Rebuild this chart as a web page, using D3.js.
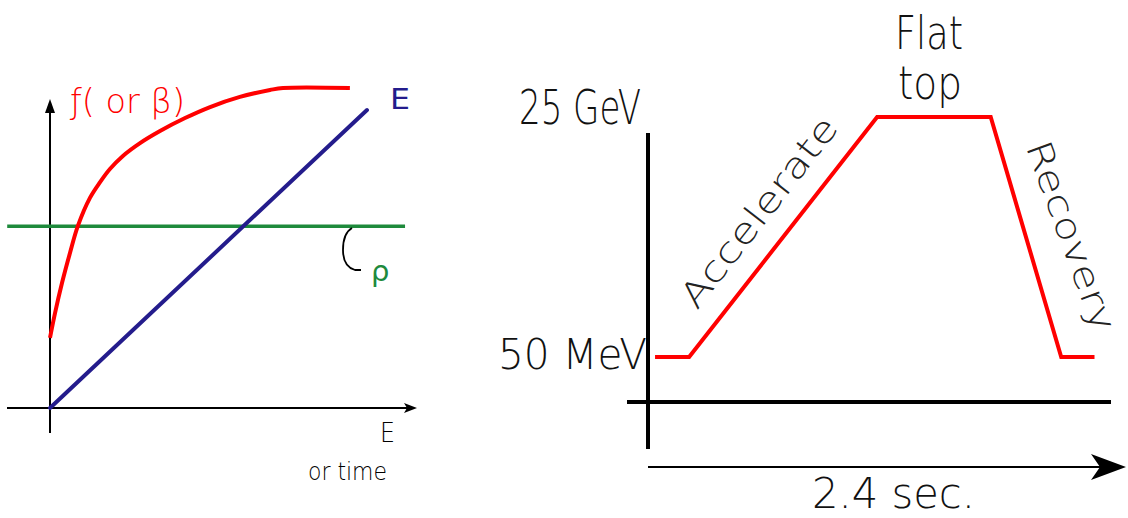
<!DOCTYPE html>
<html><head><meta charset="utf-8">
<script src="https://cdn.jsdelivr.net/npm/d3@7"></script>
<style>body{margin:0;background:#fff}svg{display:block}</style>
</head><body>
<svg id="c" width="1128" height="518"></svg>
<script>
// ---- Left panel data (arbitrary units 0..100) ----
const fBetaX = [0, 1.6, 3.8, 6.3, 8.8, 12.6, 15.8, 18.9, 23.0, 28.4, 34.7, 42.6, 50.5, 59.9, 69.4, 73.5, 94.6];
const fBetaY = [23.5, 31.9, 42.0, 52.0, 61.1, 70.5, 75.8, 80.2, 84.6, 88.9, 92.95, 97.3, 101.0, 104.4, 106.7, 107.4, 107.4];
const energyX = [0, 100];
const energyY = [0, 100];
const rhoLevel = 61;
const rhoRange = [-13.5, 112];
// ---- Right panel data (machine cycle) ----
const cycleTime = [0.036, 0.21, 1.17, 1.75, 2.11, 2.28];
const cycleEnergy = ["50 MeV", "50 MeV", "25 GeV", "25 GeV", "50 MeV", "50 MeV"];
const energyLabels = ["50 MeV", "25 GeV"];
const cycleLength = 2.4;
const phaseLabels = ["Accelerate", "Flat top", "Recovery"];

const svg = d3.select("#c");
const fam = "DejaVu Sans, sans-serif";

// ===== Left panel =====
const xL = d3.scaleLinear().domain([0, 100]).range([50, 367]);
const yL = d3.scaleLinear().domain([0, 100]).range([408, 110]);
const gL = svg.append("g");

// axes
gL.append("line").attr("x1", 7).attr("x2", 410).attr("y1", yL(0)).attr("y2", yL(0))
  .attr("stroke", "#000").attr("stroke-width", 2);
gL.append("path").attr("d", `M417,${yL(0)} L404,${yL(0)-5} L407,${yL(0)} L404,${yL(0)+5} Z`).attr("fill", "#000");
gL.append("line").attr("x1", xL(0)).attr("x2", xL(0)).attr("y1", 108).attr("y2", 433)
  .attr("stroke", "#000").attr("stroke-width", 2);
gL.append("path").attr("d", `M${xL(0)},99 L${xL(0)-5},113 L${xL(0)+5},113 Z`).attr("fill", "#000");

// rho line
gL.append("line").attr("x1", xL(rhoRange[0])).attr("x2", xL(rhoRange[1]))
  .attr("y1", yL(rhoLevel)).attr("y2", yL(rhoLevel))
  .attr("stroke", "#1e8a3c").attr("stroke-width", 3.5);

// E line
const eLine = d3.line().x((d, i) => xL(energyX[i])).y((d, i) => yL(energyY[i]));
gL.append("path").attr("d", eLine(energyX)).attr("fill", "none")
  .attr("stroke", "#241c8c").attr("stroke-width", 4).attr("stroke-linecap", "round");

// f (beta) curve
const fLine = d3.line().x((d, i) => xL(fBetaX[i])).y((d, i) => yL(fBetaY[i])).curve(d3.curveCatmullRom.alpha(0.5));
gL.append("path").attr("d", fLine(fBetaX)).attr("fill", "none")
  .attr("stroke", "#ff0000").attr("stroke-width", 4);

// labels
gL.append("text").attr("x", 390).attr("y", 109).attr("fill", "#241c8c")
  .attr("font-family", fam).attr("font-size", 29)
  .attr("textLength", 20).attr("lengthAdjust", "spacingAndGlyphs").text("E");
gL.append("text").attr("x", 70).attr("y", 113).attr("fill", "#ff0000")
  .attr("font-family", fam).attr("font-size", 33).attr("font-weight", 300)
  .attr("textLength", 115).attr("lengthAdjust", "spacingAndGlyphs")
  .text("ƒ( or β)");

// rho bracket
gL.append("path").attr("d", "M352,228 C345,232 343,240 343,250 C343,262 348,268 355,270 L361,270")
  .attr("fill", "none").attr("stroke", "#000").attr("stroke-width", 1.8);
gL.append("text").attr("x", 371).attr("y", 281).attr("fill", "#1e8a3c")
  .attr("font-family", fam).attr("font-size", 29).text("ρ");

gL.append("text").attr("x", 380).attr("y", 442).attr("fill", "#000")
  .attr("font-family", fam).attr("font-size", 27).attr("font-weight", 300)
  .attr("textLength", 15).attr("lengthAdjust", "spacingAndGlyphs").text("E");
gL.append("text").attr("x", 308).attr("y", 480).attr("fill", "#000")
  .attr("font-family", fam).attr("font-size", 25).attr("font-weight", 300)
  .attr("textLength", 79).attr("lengthAdjust", "spacingAndGlyphs").text("or time");

// ===== Right panel =====
const xR = d3.scaleLinear().domain([0, cycleLength]).range([648, 1118]);
const yR = d3.scalePoint().domain(energyLabels).range([357, 117]);
const gR = svg.append("g");

// energy axis labels via d3 axis
const labelStyle = {"25 GeV": {size: 48, len: 122, dy: 6, dx: -6}, "50 MeV": {size: 42, len: 149, dy: 11, dx: 0}};
const ax = gR.append("g").attr("transform", "translate(648,0)")
  .call(d3.axisLeft(yR).tickSize(0).tickPadding(1));
ax.select(".domain").remove();
ax.selectAll("text")
  .attr("font-family", fam).attr("font-weight", 300).attr("fill", "#111")
  .attr("font-size", d => labelStyle[d].size)
  .attr("dy", d => labelStyle[d].dy)
  .attr("dx", d => labelStyle[d].dx)
  .attr("textLength", d => labelStyle[d].len).attr("lengthAdjust", "spacingAndGlyphs");

// axes lines
gR.append("line").attr("x1", 648).attr("x2", 648).attr("y1", 133).attr("y2", 449)
  .attr("stroke", "#000").attr("stroke-width", 4);
gR.append("line").attr("x1", 627).attr("x2", 1111).attr("y1", 402).attr("y2", 402)
  .attr("stroke", "#000").attr("stroke-width", 4);

// time arrow
gR.append("line").attr("x1", xR(0)).attr("x2", 1105).attr("y1", 467).attr("y2", 467)
  .attr("stroke", "#000").attr("stroke-width", 2);
gR.append("path").attr("d", "M1126,467 L1091,454 L1100,467 L1091,480 Z").attr("fill", "#000");
gR.append("text").attr("x", 812).attr("y", 508).attr("fill", "#111")
  .attr("font-family", fam).attr("font-size", 43).attr("font-weight", 300)
  .attr("textLength", 163).attr("lengthAdjust", "spacingAndGlyphs")
  .text(cycleLength + " sec.");

// cycle line
const cLine = d3.line().x((d, i) => xR(cycleTime[i])).y((d, i) => yR(cycleEnergy[i]));
gR.append("path").attr("d", cLine(cycleTime)).attr("fill", "none")
  .attr("stroke", "#ff0000").attr("stroke-width", 4).attr("stroke-linejoin", "miter");

// phase labels
gR.append("text").attr("transform", "translate(759,212) rotate(-52)")
  .attr("text-anchor", "middle").attr("dominant-baseline", "central")
  .attr("font-family", fam).attr("font-size", 35).attr("font-weight", 300).attr("fill", "#222")
  .attr("textLength", 232).attr("lengthAdjust", "spacingAndGlyphs").text(phaseLabels[0]);
const ftWords = phaseLabels[1].split(" ");
const ft = gR.append("text").attr("font-family", fam)
  .attr("font-size", 46).attr("font-weight", 300).attr("fill", "#111");
ft.append("tspan").attr("x", 895).attr("y", 49)
  .attr("textLength", 68).attr("lengthAdjust", "spacingAndGlyphs").text(ftWords[0]);
ft.append("tspan").attr("x", 898).attr("y", 99)
  .attr("textLength", 64).attr("lengthAdjust", "spacingAndGlyphs").text(ftWords[1]);
gR.append("text").attr("transform", "translate(1071,236) rotate(70)")
  .attr("text-anchor", "middle").attr("dominant-baseline", "central")
  .attr("font-family", fam).attr("font-size", 35).attr("font-weight", 300).attr("fill", "#222")
  .attr("textLength", 200).attr("lengthAdjust", "spacingAndGlyphs").text(phaseLabels[2]);
</script>
</body></html>
